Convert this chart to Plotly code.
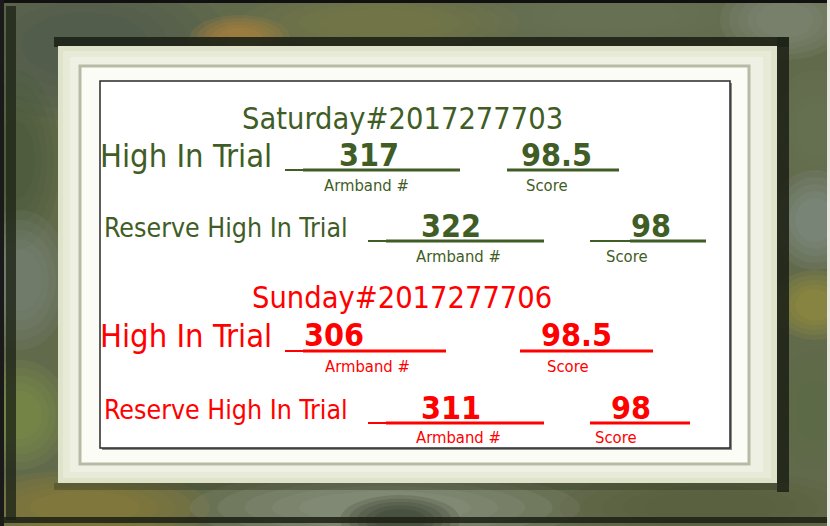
import plotly.graph_objects as go

# ---------------- data ----------------
days = ["Saturday", "Sunday"]
trial_ids = ["2017277703", "2017277706"]
award_labels = ["High In Trial", "Reserve High In Trial"]
armbands = [["317", "322"], ["306", "311"]]
scores = [["98.5", "98"], ["98.5", "98"]]
armband_caption = "Armband #"
score_caption = "Score"
day_colors = ["#3f5d25", "#ff0000"]

# ---------------- layout geometry (pixel space) ----------------
W, H = 830, 526
FONT = "'DejaVu Sans Condensed', 'Liberation Sans Narrow', 'DejaVu Sans', sans-serif"

fig = go.Figure()
shapes = []


def rect(x0, y0, x1, y1, fill, line=None, lw=0, op=1.0, layer="below"):
    shapes.append(dict(type="rect", xref="x", yref="y", x0=x0, y0=y0, x1=x1, y1=y1,
                       fillcolor=fill, opacity=op, layer=layer,
                       line=dict(color=line or fill, width=lw)))


def blob(x0, y0, x1, y1, fill, op, steps=5):
    # soft-edged blob: stacked shrinking ellipses
    cx, cy = (x0 + x1) / 2, (y0 + y1) / 2
    hw, hh = (x1 - x0) / 2, (y1 - y0) / 2
    for i in range(steps):
        f = 1 - i / steps * 0.7
        shapes.append(dict(type="circle", xref="x", yref="y",
                           x0=cx - hw * f, x1=cx + hw * f, y0=cy - hh * f, y1=cy + hh * f,
                           fillcolor=fill, opacity=op / steps, layer="below",
                           line=dict(width=0)))


def hline(x0, x1, y, color, w):
    shapes.append(dict(type="line", xref="x", yref="y", x0=x0, x1=x1, y0=y, y1=y,
                       line=dict(color=color, width=w), layer="above"))


# frame base
rect(0, 0, W, H, "#626a4c")
# mottled texture on frame
blob(-60, -30, 230, 120, "#4d5853", 0.8)
blob(190, 15, 290, 60, "#c4863a", 0.8)
blob(240, -10, 520, 55, "#807d46", 0.7)
blob(470, -20, 760, 50, "#6f765e", 0.7)
blob(720, -20, 850, 60, "#939a96", 0.6)
blob(-30, 70, 60, 250, "#46553a", 0.8)
blob(-30, 210, 70, 350, "#7e8d88", 0.7)
blob(-30, 360, 70, 470, "#8a9a4a", 0.7)
blob(770, 70, 860, 190, "#6b7552", 0.7)
blob(770, 170, 860, 270, "#8c9b9a", 0.7)
blob(770, 270, 860, 340, "#ad9a3c", 0.7)
blob(770, 340, 860, 480, "#5a6748", 0.7)
blob(-40, 470, 210, 545, "#958534", 0.8)
blob(190, 470, 580, 545, "#a3aba1", 0.6)
blob(340, 495, 460, 545, "#1f2418", 0.7)
blob(560, 470, 860, 545, "#535d3b", 0.7)
# dark edges of the wooden frame
rect(0, 0, W, 3, "#111111")
rect(0, 0, 4, H, "#1a1a1a")
rect(6, 6, 16, 520, "#1f2616", op=0.8)
rect(0, 517, W, 523, "#1c2014", op=0.85)
rect(827, 0, W, H, "#e6e8e0")
# mat shadow
rect(54, 37, 789, 47, "#1f2418", op=0.92)
rect(777, 37, 789, 492, "#1f2418", op=0.9)
rect(54, 483, 789, 490, "#2c321e", op=0.35)
# mat
rect(58, 46, 777, 483, "#dfe3ca")
rect(63, 51, 771, 478, "#e7ead7")
rect(70, 57, 763, 472, "#eef0e3")
# inner bevel line
rect(80, 66, 749, 464, "#fbfcf5", line="#b7bba6", lw=3)
# white panel with shadow
rect(102, 83, 732, 450, "#8c8c86")
rect(100, 81, 730, 448, "#ffffff", line="#2a2a2a", lw=1.5)

# ---------------- text ----------------
ann = []


def text(x, y, s, size, color, anchor="center", bold=False):
    ann.append(dict(x=x, y=y, xref="x", yref="y", text=f"<b>{s}</b>" if bold else s,
                    showarrow=False, xanchor=anchor, yanchor="middle",
                    font=dict(family=FONT, size=size, color=color)))


title_y = [118, 297]
row_y = [[156, 227], [336, 409]]          # cap centres of label rows
line_y = [[170, 241], [351, 423]]         # underline positions
cap_y = [[185, 256], [366, 437]]          # caption centres
label_x = [98, 102]
label_size = [32.5, 26.5]
num_size = 32
arm_line = [[(285, 303, 460), (368, 386, 544)], [(285, 303, 446), (368, 386, 544)]]
arm_num_x = [[369, 451], [334, 451]]
arm_cap_x = [[366, 458], [367, 458]]
score_line = [[(507, 507, 619), (590, 630, 706)], [(520, 520, 653), (590, 590, 690)]]
score_num_x = [[556, 651], [576, 631]]
score_cap_x = [[547, 627], [568, 616]]

for d in range(2):
    c = day_colors[d]
    text(402, title_y[d], f"{days[d]}#{trial_ids[d]}", 30.5, c)
    for r in range(2):
        yy = row_y[d][r]
        text(label_x[r], yy, award_labels[r], label_size[r], c, anchor="left")
        a0, a1, a2 = arm_line[d][r]
        hline(a0, a1, line_y[d][r], c, 2)
        hline(a1, a2, line_y[d][r], c, 3)
        s0, s1, s2 = score_line[d][r]
        if s1 > s0:
            hline(s0, s1, line_y[d][r], c, 2)
        hline(s1, s2, line_y[d][r], c, 3)
        text(arm_num_x[d][r], yy - 1, armbands[d][r], num_size, c, bold=True)
        text(score_num_x[d][r], yy - 1, scores[d][r], num_size, c, bold=True)
        text(arm_cap_x[d][r], cap_y[d][r], armband_caption, 16.5, c)
        text(score_cap_x[d][r], cap_y[d][r], score_caption, 16.5, c)

fig.update_layout(
    width=W, height=H, margin=dict(l=0, r=0, t=0, b=0),
    paper_bgcolor="#626a4c", plot_bgcolor="#626a4c",
    xaxis=dict(range=[0, W], visible=False, fixedrange=True),
    yaxis=dict(range=[H, 0], visible=False, fixedrange=True),
    shapes=shapes, annotations=ann, showlegend=False,
)
fig.write_html("out.html", config={"displayModeBar": False})

# remove the browser's default page margin so the figure fills the window
with open("out.html", encoding="utf-8") as fh:
    page = fh.read()
page = page.replace("<head>", "<head><style>html,body{margin:0;padding:0;overflow:hidden;}</style>", 1)
with open("out.html", "w", encoding="utf-8") as fh:
    fh.write(page)
